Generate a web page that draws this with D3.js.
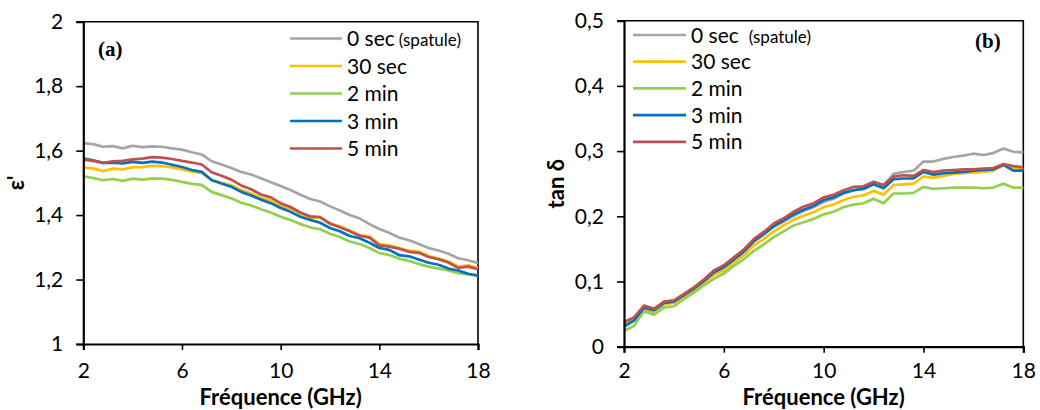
<!DOCTYPE html>
<html><head><meta charset="utf-8">
<script src="https://cdn.jsdelivr.net/npm/d3@7"></script>
<style>
html,body{margin:0;padding:0;background:#fff;}
svg{display:block;}
text{font-family:Lato,"Open Sans",sans-serif;fill:#000;}
</style></head>
<body><svg id="c" width="1040" height="410"></svg>
<script>
// ---- data ----
const freq = [2.0,2.4,2.8,3.2,3.6,4.0,4.4,4.8,5.2,5.6,6.0,6.4,6.8,7.2,7.6,8.0,8.4,8.8,9.2,9.6,10.0,10.4,10.8,11.2,11.6,12.0,12.4,12.8,13.2,13.6,14.0,14.4,14.8,15.2,15.6,16.0,16.4,16.8,17.2,17.6,18.0];
const seriesNames = ["0 sec","30 sec","2 min","3 min","5 min"];
const seriesColors = ["#A5A5A5","#FFC000","#92D050","#0070C0","#C0504D"];

const eps0s  = [1.623,1.620,1.612,1.614,1.607,1.615,1.611,1.613,1.612,1.607,1.603,1.595,1.588,1.567,1.557,1.546,1.534,1.526,1.514,1.502,1.490,1.478,1.463,1.450,1.442,1.427,1.414,1.400,1.390,1.372,1.357,1.345,1.330,1.322,1.310,1.298,1.290,1.280,1.266,1.260,1.251];
const eps30s = [1.547,1.545,1.536,1.544,1.542,1.548,1.549,1.553,1.552,1.548,1.542,1.535,1.531,1.508,1.500,1.492,1.478,1.467,1.454,1.445,1.428,1.420,1.404,1.392,1.392,1.372,1.365,1.352,1.338,1.333,1.310,1.306,1.298,1.290,1.287,1.273,1.265,1.256,1.240,1.244,1.236];
const eps2m  = [1.520,1.515,1.508,1.512,1.506,1.513,1.510,1.514,1.513,1.509,1.503,1.497,1.494,1.472,1.462,1.452,1.438,1.430,1.418,1.408,1.395,1.385,1.372,1.362,1.356,1.342,1.332,1.318,1.310,1.298,1.282,1.276,1.265,1.258,1.248,1.240,1.234,1.228,1.220,1.216,1.213];
const eps3m  = [1.575,1.570,1.562,1.563,1.560,1.565,1.562,1.566,1.563,1.556,1.549,1.540,1.534,1.509,1.498,1.488,1.472,1.461,1.448,1.437,1.422,1.410,1.395,1.385,1.376,1.360,1.350,1.335,1.328,1.314,1.298,1.292,1.276,1.272,1.262,1.252,1.246,1.234,1.228,1.218,1.212];
const eps5m  = [1.572,1.568,1.562,1.567,1.568,1.573,1.575,1.580,1.578,1.574,1.568,1.563,1.557,1.533,1.522,1.510,1.492,1.480,1.464,1.455,1.437,1.425,1.408,1.396,1.394,1.374,1.362,1.350,1.336,1.330,1.306,1.302,1.296,1.286,1.283,1.270,1.263,1.253,1.236,1.240,1.232];

const tan0s  = [0.034,0.041,0.058,0.053,0.065,0.068,0.079,0.089,0.100,0.113,0.121,0.133,0.145,0.161,0.172,0.184,0.192,0.201,0.208,0.214,0.222,0.227,0.235,0.240,0.243,0.250,0.247,0.265,0.268,0.270,0.284,0.284,0.288,0.291,0.293,0.296,0.294,0.297,0.304,0.299,0.298];
const tan30s = [0.033,0.041,0.059,0.054,0.066,0.067,0.077,0.087,0.098,0.110,0.117,0.129,0.140,0.155,0.165,0.177,0.186,0.195,0.201,0.206,0.214,0.218,0.225,0.230,0.232,0.239,0.233,0.248,0.249,0.250,0.261,0.259,0.262,0.265,0.266,0.267,0.268,0.270,0.278,0.274,0.272];
const tan2m  = [0.024,0.032,0.054,0.049,0.060,0.062,0.073,0.083,0.094,0.104,0.112,0.124,0.134,0.147,0.157,0.168,0.177,0.186,0.191,0.196,0.203,0.207,0.214,0.218,0.220,0.227,0.220,0.235,0.235,0.236,0.245,0.242,0.243,0.244,0.244,0.244,0.243,0.244,0.250,0.244,0.244];
const tan3m  = [0.031,0.040,0.060,0.056,0.067,0.069,0.079,0.089,0.101,0.114,0.122,0.134,0.146,0.162,0.173,0.185,0.194,0.203,0.210,0.216,0.225,0.229,0.236,0.240,0.242,0.249,0.243,0.257,0.258,0.258,0.268,0.264,0.266,0.267,0.268,0.270,0.271,0.272,0.279,0.270,0.270];
const tan5m  = [0.038,0.045,0.063,0.058,0.069,0.071,0.081,0.091,0.103,0.117,0.125,0.137,0.149,0.165,0.176,0.189,0.197,0.207,0.215,0.220,0.229,0.233,0.240,0.245,0.246,0.253,0.248,0.261,0.263,0.262,0.271,0.268,0.270,0.271,0.272,0.272,0.273,0.274,0.280,0.277,0.275];

const xTicks = [2,6,10,14,18];
const epsTicks = [1,1.2,1.4,1.6,1.8,2];
const tanTicks = [0,0.1,0.2,0.3,0.4,0.5];

// ---- drawing ----
const svg = d3.select("#c");
const fmt = d => String(d).replace(".", ",");

function panel(opt){
  const g = svg.append("g");
  const x = d3.scaleLinear().domain([2,18]).range([opt.x0, opt.x1]);
  const y = d3.scaleLinear().domain(opt.yDomain).range([opt.y1, opt.y0]);
  g.append("path")
    .attr("d", `M${opt.x0},${opt.y0}H${opt.x1}V${opt.y1}`)
    .attr("fill","none").attr("stroke","#000").attr("stroke-width",1.6);
  const line = d3.line().x((d,i)=>x(freq[i])).y(d=>y(d));
  opt.series.forEach((s,i)=>{
    g.append("path").datum(s).attr("d", line)
      .attr("fill","none").attr("stroke", seriesColors[i])
      .attr("stroke-width",2.7).attr("stroke-linejoin","round");
  });
  const ax = g.append("g").attr("transform",`translate(0,${opt.y1})`)
    .call(d3.axisBottom(x).tickValues(xTicks).tickFormat(fmt).tickSize(6).tickPadding(0));
  const ay = g.append("g").attr("transform",`translate(${opt.x0},0)`)
    .call(d3.axisLeft(y).tickValues(opt.yTicks).tickFormat(fmt).tickSize(7).tickPadding(13));
  [ax,ay].forEach(a=>{
    a.select(".domain").attr("stroke","#000").attr("stroke-width",2.2);
    a.selectAll(".tick line").attr("stroke","#000").attr("stroke-width",1.6);
    a.selectAll(".tick text").style("font-family","Lato,sans-serif").style("font-size","21px").attr("fill","#000");
  });
  // x tick labels: baseline at fixed page y
  ax.selectAll(".tick text").attr("y", 378 - opt.y1).attr("dy", 0);
  g.append("text").attr("x",(opt.x0+opt.x1)/2).attr("y",405)
    .attr("text-anchor","middle").style("font-size","22px").style("font-weight","bold")
    .text("Fréquence (GHz)");
  g.append("text").attr("transform",`translate(${opt.yTitleX},${(opt.y0+opt.y1)/2}) rotate(-90)`)
    .attr("text-anchor","middle").style("font-size","22px").style("font-weight","bold")
    .text(opt.yTitle);
  g.append("text").attr("x",opt.tagX).attr("y",opt.tagY)
    .style("font-family","'Liberation Serif','Times New Roman',serif")
    .style("font-size","21px").style("font-weight","bold").text(opt.tag);
  seriesNames.forEach((n,i)=>{
    const ly = opt.legY + i*opt.legStep;
    g.append("line").attr("x1",opt.legX).attr("x2",opt.legX+opt.legLen)
      .attr("y1",ly).attr("y2",ly).attr("stroke",seriesColors[i]).attr("stroke-width",2.7);
    const t = g.append("text").attr("x",opt.legX+opt.legLen+5).attr("y",ly+7.5).style("font-size","21px");
    t.append("tspan").text(n);
    if(i===0){
      t.append("tspan").attr("dx",opt.spatDx).style("font-size","17px").text("(spatule)");
    }
  });
}

panel({x0:83.3,x1:478,y0:21.7,y1:344,yDomain:[1,2],yTicks:epsTicks,
  series:[eps0s,eps30s,eps2m,eps3m,eps5m], yTitle:"ε'", yTitleX:24,
  tag:"(a)", tagX:98, tagY:56, legX:290, legY:38.5, legStep:27.5, legLen:52, spatDx:4});
panel({x0:624,x1:1023.3,y0:20.7,y1:346.7,yDomain:[0,0.5],yTicks:tanTicks,
  series:[tan0s,tan30s,tan2m,tan3m,tan5m], yTitle:"tan δ", yTitleX:564,
  tag:"(b)", tagX:975, tagY:48, legX:633, legY:35, legStep:26.7, legLen:53, spatDx:10});
</script></body></html>
